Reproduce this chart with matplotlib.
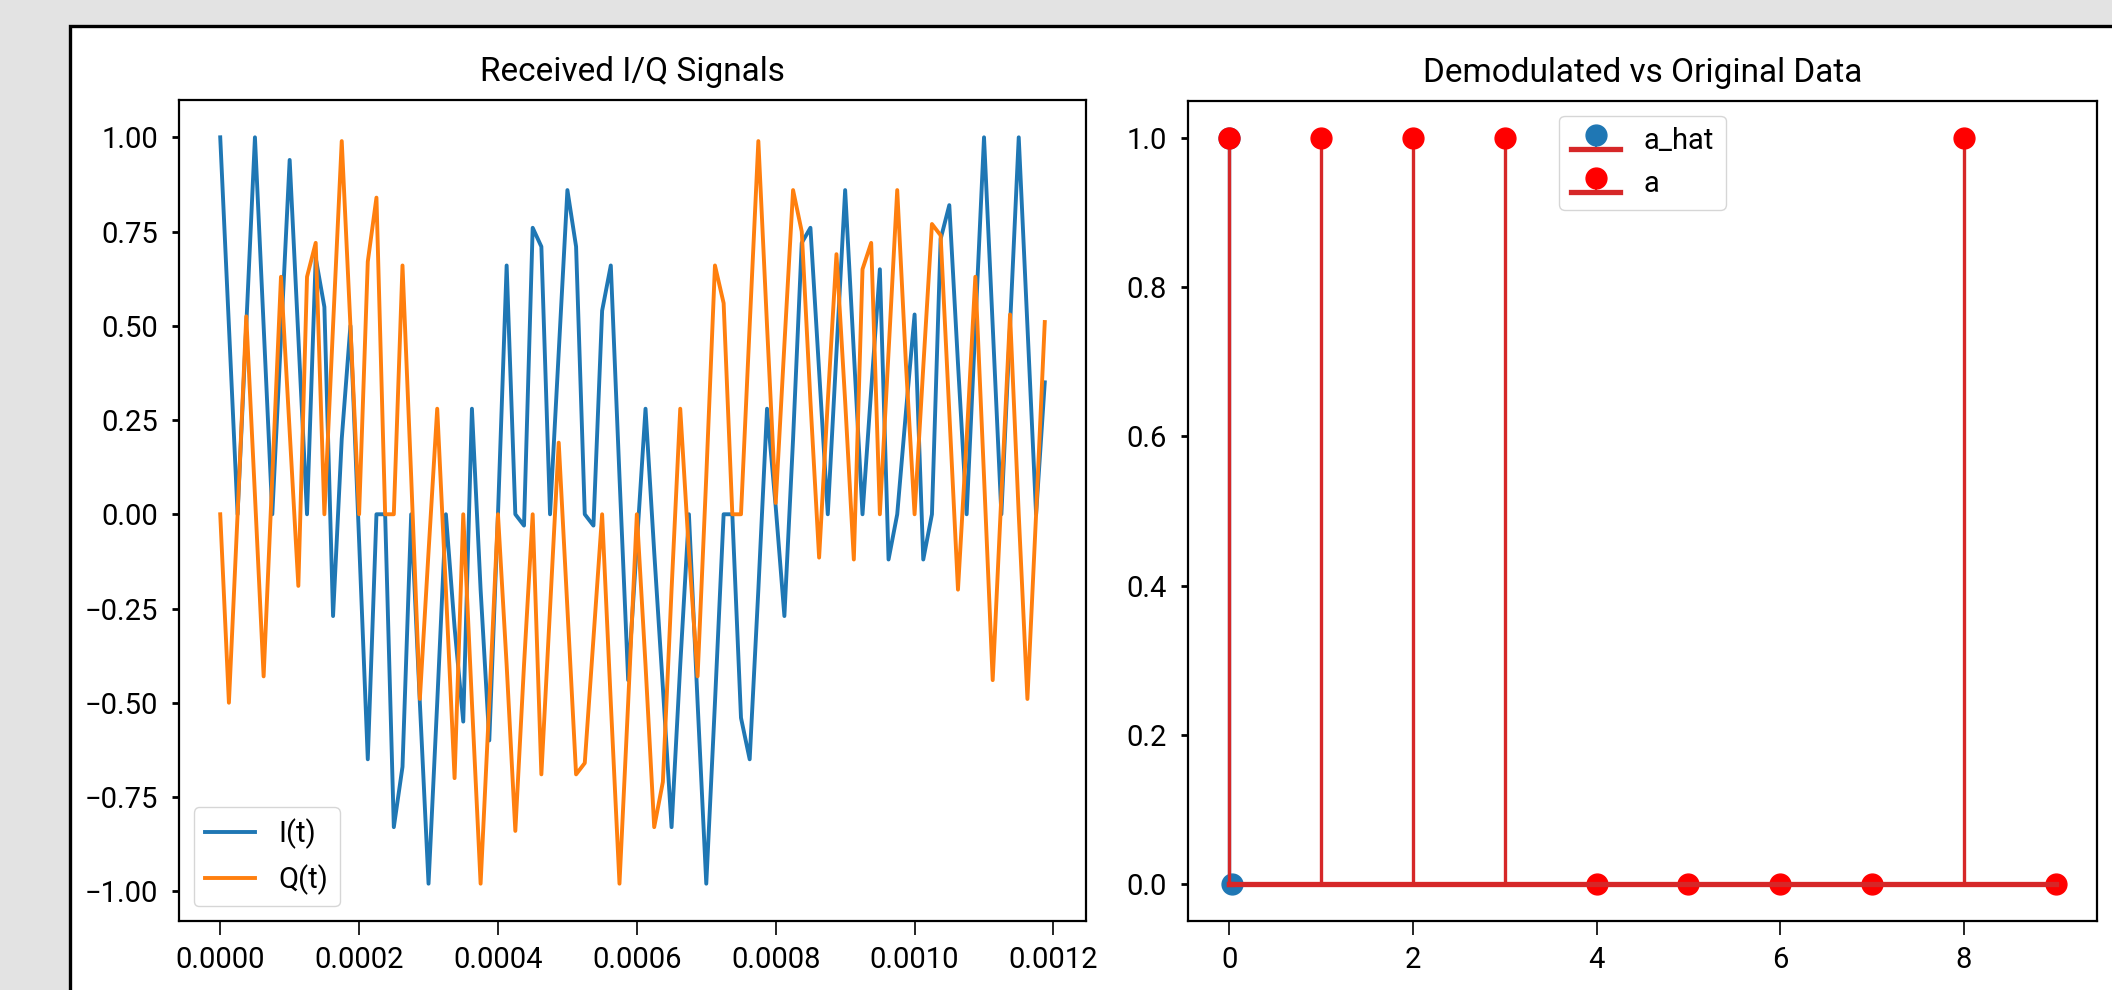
import numpy as np
import matplotlib
matplotlib.use("Agg")
from matplotlib import pyplot as plt
from matplotlib.patches import Rectangle

plt.rcParams['font.family'] = ['Roboto', 'DejaVu Sans']

# received samples (fs = 80 kHz)
fs = 80000
i_sig = [1.0, 0.5, 0.0, 0.5, 1.0, 0.5, 0.0, 0.47, 0.94, 0.47,
         0.0, 0.68, 0.55, -0.27, 0.2, 0.5, -0.07, -0.65, 0.0, 0.0,
         -0.83, -0.67, 0.0, -0.5, -0.98, -0.5, 0.0, -0.3, -0.55, 0.28,
         -0.2, -0.6, 0.0, 0.66, 0.0, -0.03, 0.76, 0.71, 0.0, 0.43,
         0.86, 0.71, 0.0, -0.03, 0.54, 0.66, 0.1, -0.44, -0.08, 0.28,
         -0.1, -0.46, -0.83, -0.4, 0.0, -0.5, -0.98, -0.5, 0.0, 0.0,
         -0.54, -0.65, -0.2, 0.28, 0.02, -0.27, 0.2, 0.72, 0.76, 0.38,
         0.0, 0.43, 0.86, 0.43, 0.0, 0.33, 0.65, -0.12, 0.0, 0.27,
         0.53, -0.12, 0.0, 0.73, 0.82, 0.4, 0.0, 0.5, 1.0, 0.5,
         0.0, 0.5, 1.0, 0.5, 0.0, 0.35]
q_sig = [0.0, -0.5, 0.0, 0.525, 0.05, -0.43, 0.1, 0.63, 0.22, -0.19,
         0.63, 0.72, 0.0, 0.5, 0.99, 0.5, 0.0, 0.67, 0.84, 0.0,
         0.0, 0.66, 0.1, -0.49, -0.1, 0.28, -0.2, -0.70, 0.0, -0.5,
         -0.98, -0.5, 0.0, -0.4, -0.84, -0.4, 0.0, -0.69, -0.25, 0.19,
         -0.25, -0.69, -0.66, -0.33, 0.0, -0.5, -0.98, -0.5, 0.0, -0.4,
         -0.83, -0.71, -0.2, 0.28, -0.1, -0.43, 0.1, 0.66, 0.56, 0.0,
         0.0, 0.5, 0.99, 0.5, 0.03, 0.45, 0.86, 0.75, 0.3, -0.115,
         0.3, 0.69, 0.3, -0.12, 0.65, 0.72, 0.0, 0.43, 0.86, 0.4,
         0.0, 0.39, 0.77, 0.74, 0.27, -0.2, 0.2, 0.63, 0.1, -0.44,
         0.05, 0.53, 0.0, -0.49, 0.0, 0.51]

# bits
a = [1, 1, 1, 1, 0, 0, 0, 0, 1, 0]
a_hat_x = [0.0, 0.025]
a_hat = [1, 0]

t = np.arange(len(i_sig)) / fs

fig = plt.figure(figsize=(21.12, 9.9), dpi=100, facecolor='#e3e3e3')
# white screenshot panel with black frame
fig.patches.append(Rectangle((69.5 / 2112, -0.05), 1.1, 0.05 + 964.5 / 990,
                             transform=fig.transFigure, facecolor='white',
                             edgecolor='black', lw=2.4, zorder=-1))

ax1 = fig.add_axes([179 / 2112, 69 / 990, 907 / 2112, 821 / 990])
ax2 = fig.add_axes([1188 / 2112, 69 / 990, 909 / 2112, 820 / 990])

ax1.plot(t, i_sig, lw=2.8, label='I(t)')
ax1.plot(t, q_sig, lw=2.8, label='Q(t)')
ax1.set_title('Received I/Q Signals', fontsize=24, pad=14)
ax1.legend(loc='lower left', fontsize=21, handlelength=1.7)

m1, s1, b1 = ax2.stem(a_hat_x, a_hat, label='a_hat')
m2, s2, b2 = ax2.stem(range(len(a)), a, linefmt='C3-', markerfmt='ro', label='a')
for m in (m1, m2):
    m.set_markersize(15)
for s in (s1, s2):
    s.set_linewidth(2.4)
for b in (b1, b2):
    b.set_linewidth(3.8)
ax2.set_title('Demodulated vs Original Data', fontsize=24, pad=14)
ax2.legend(loc='upper center', fontsize=21, handlelength=1.7)

for ax in (ax1, ax2):
    ax.tick_params(axis='x', labelsize=21, length=10, width=1.2, pad=8)
    ax.tick_params(axis='y', labelsize=21, length=5, width=2, pad=10)
    for sp in ax.spines.values():
        sp.set_linewidth(1.6)

fig.savefig('out.png', dpi=100, facecolor=fig.get_facecolor())
